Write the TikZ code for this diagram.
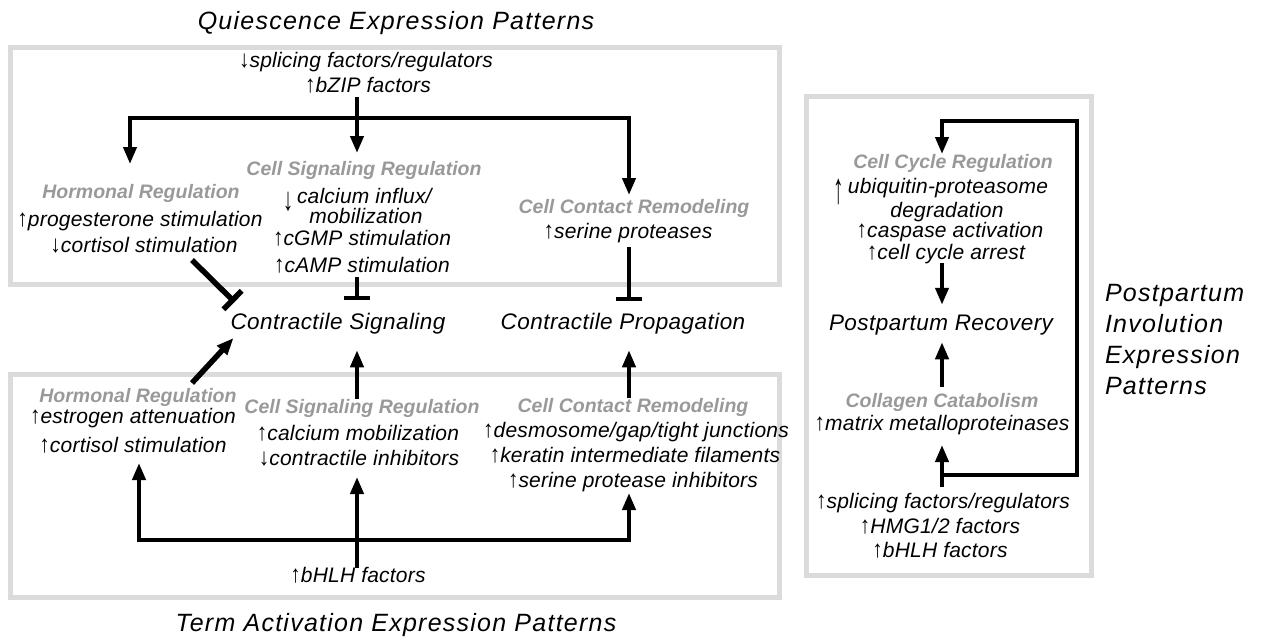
\documentclass[tikz,border=0pt]{standalone}
\usepackage{fontspec}
\usepackage{graphicx}
\setmainfont{Liberation Sans}
\newfontfamily\titlefamily[LetterSpace=5]{Liberation Sans}
\newfontfamily\labelfamily[LetterSpace=2]{Liberation Sans}
\newfontfamily\itemfamily[LetterSpace=1]{Liberation Sans}
\newfontfamily\plainfamily{Liberation Sans}
\usetikzlibrary{arrows.meta}
\definecolor{framegray}{gray}{0.86}
\definecolor{headgray}{gray}{0.6}
\newcommand\uparr{{\plainfamily\bfseries\upshape\scalebox{1}[1.15]{↑}}}
\newcommand\dnarr{{\plainfamily\bfseries\upshape\scalebox{1}[1.15]{↓}}}

\begin{document}
\begin{tikzpicture}[x=1pt,y=-1pt,
  every node/.style={inner sep=0pt,outer sep=0pt},
  ttl/.style={font=\titlefamily\itshape\fontsize{25}{30}\selectfont, text height=17pt, text depth=5pt},
  big/.style={font=\labelfamily\itshape\fontsize{22.5}{27}\selectfont, text height=16pt, text depth=4.5pt},
  item/.style={font=\itemfamily\itshape\fontsize{21}{25}\selectfont, text height=14pt, text depth=4pt},
  head/.style={font=\plainfamily\bfseries\itshape\fontsize{19.5}{24}\selectfont, text=headgray, text height=14pt, text depth=4pt},
  frame/.style={draw=framegray, line width=5pt},
  flow/.style={line width=4pt, -{Triangle[length=17pt,width=13pt]}},
  inhib/.style={line width=4pt, -{Bar[width=26pt]}},
]
\useasboundingbox (0,0) rectangle (1264,641);

% frames of the three expression-pattern groups
\draw[frame] (10,47) rectangle (779,284);
\draw[frame] (10,374) rectangle (779,597);
\draw[frame] (806,96) rectangle (1091,575);

% ---------- quiescence ----------
\node[ttl] (qtitle) at (396,23) {Quiescence Expression Patterns};
\node[item] (qspl) at (366,62) {\dnarr splicing factors/regulators};
\node[item] (bzip) at (368,87) {\uparr bZIP factors};
\node[head] (qcs) at (364,170) {Cell Signaling Regulation};
\node[head] (qhr) at (141,193) {Hormonal Regulation};
\node[item] (qprog) at (140,221) {\uparr progesterone stimulation};
\node[item] (qcort) at (144,247) {\dnarr cortisol stimulation};
\node[item] (qcadn) at (288,205) {\scalebox{1}[1.35]{\dnarr}};
\node[item,anchor=west] (qca1) at (297,198) {calcium influx/};
\node[item] (qca2) at (366,218) {mobilization};
\node[item] (qcgmp) at (362,240) {\uparr cGMP stimulation};
\node[item] (qcamp) at (362,267) {\uparr cAMP stimulation};
\node[head] (qcc) at (634,208) {Cell Contact Remodeling};
\node[item] (qsp) at (628,233) {\uparr serine proteases};

% ---------- outcomes ----------
\node[big] (cs) at (338,324) {Contractile Signaling};
\node[big] (cp) at (623,324) {Contractile Propagation};

% ---------- term activation ----------
\node[head] (thr) at (138,397) {Hormonal Regulation};
\node[item] (test) at (133,418) {\uparr estrogen attenuation};
\node[item] (tcort) at (133,447) {\uparr cortisol stimulation};
\node[head] (tcs) at (362,408) {Cell Signaling Regulation};
\node[item] (tcal) at (358,435) {\uparr calcium mobilization};
\node[item] (tcontr) at (359,460) {\dnarr contractile inhibitors};
\node[head] (tcc) at (633,407) {Cell Contact Remodeling};
\node[item] (tdes) at (636,432) {\uparr desmosome/gap/tight junctions};
\node[item] (tker) at (635,457) {\uparr keratin intermediate filaments};
\node[item] (tspi) at (633,482) {\uparr serine protease inhibitors};
\node[item] (tb) at (358,577) {\uparr bHLH factors};
\node[ttl] (ttitle) at (396,625) {Term Activation Expression Patterns};

% ---------- postpartum involution ----------
\node[head] (pcc) at (953,163) {Cell Cycle Regulation};
\node[item] (pubarr) at (839,198) {\scalebox{1}[1.8]{\uparr}};
\node[item] (pub) at (948,188) {ubiquitin-proteasome};
\node[item] (pdeg) at (947,212) {degradation};
\node[item] (pcasp) at (950,232) {\uparr caspase activation};
\node[item] (parr) at (946,254) {\uparr cell cycle arrest};
\node[big] (prr) at (941,325) {Postpartum Recovery};
\node[head] (pcoll) at (942,402) {Collagen Catabolism};
\node[item] (pmmp) at (942,425) {\uparr matrix metalloproteinases};
\node[item] (psp) at (943,503) {\uparr splicing factors/regulators};
\node[item] (phmg) at (940,528) {\uparr HMG1/2 factors};
\node[item] (pbh) at (940,552) {\uparr bHLH factors};
\node[ttl,anchor=west] (pt1) at (1105,295) {Postpartum};
\node[ttl,anchor=west] (pt2) at (1105,326) {Involution};
\node[ttl,anchor=west] (pt3) at (1105,357) {Expression};
\node[ttl,anchor=west] (pt4) at (1105,388) {Patterns};

% ---------- connectors ----------
\coordinate (jq) at (357,118);
\coordinate (xm) at (357,0);
\coordinate (xqL) at (130,0);
\coordinate (xqR) at (629,0);
\coordinate (xtL) at (139,0);
\coordinate (jt) at (357,540);

% quiescence branching
\draw[flow, shorten <=1pt, shorten >=8pt] (bzip.south -| jq) -- (qcs.north -| jq);
\draw[flow, shorten >=20pt] (jq) -| (qhr.north -| xqL);
\draw[flow, shorten >=4pt] (jq) -| (qcc.north -| xqR);

% quiescence inhibition
\draw[inhib, shorten <=1pt, shorten >=14pt] (qcamp.south -| xm) -- (cs.north -| xm);
\draw[inhib, shorten <=5pt, shorten >=13pt] (qsp.south -| xqR) -- (cp.north -| xqR);
\draw[inhib, line width=5.5pt] ([shift={(48,4)}]qcort.south) -- ([shift={(4,-22)}]cs.west);

% term activation
\draw[flow, line width=5.5pt] ([shift={(54,-5)}]thr.north) -- ([shift={(3,14)}]cs.west);
\draw[flow, shorten >=16pt] (tcs.north -| xm) -- (cs.south -| xm);
\draw[flow, shorten >=16pt] (tcc.north -| xqR) -- (cp.south -| xqR);
\draw[flow, shorten >=8pt] (tb.north -| xm) -- (tcontr.south -| xm);
\draw[flow, shorten >=7pt] (jt) -| (tcort.south -| xtL);
\draw[flow, shorten >=2pt] (jt) -| (tspi.south -| xqR);

% postpartum loop
\coordinate (xp) at (942,0);
\coordinate (jp) at (942,475);
\coordinate (pbr) at (1077,475);
\coordinate (ptr) at (1077,121);
\coordinate (ptl) at (942,121);
\draw[flow] (jp) -- (pbr) -- (ptr) -- (ptl) -- (pcc.north -| ptl);
\draw[flow, shorten <=7pt, shorten >=11pt] (psp.north -| xp) -- (pmmp.south -| xp);
\draw[flow, shorten <=6pt, shorten >=7pt] (pcoll.north -| xp) -- (prr.south -| xp);
\draw[flow, shorten >=10pt] (parr.south -| xp) -- (prr.north -| xp);
\end{tikzpicture}
\end{document}
